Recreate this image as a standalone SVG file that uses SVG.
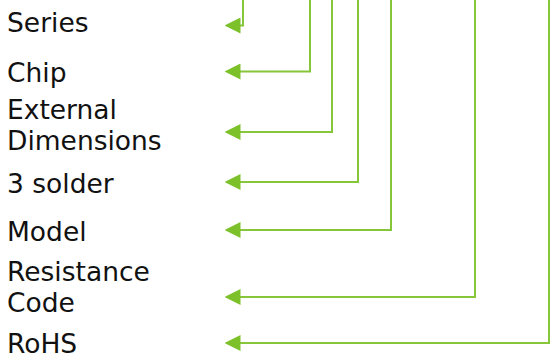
<svg xmlns="http://www.w3.org/2000/svg" width="550" height="354" viewBox="0 0 550 354">
<style>
.lbl{font-family:"DejaVu Sans",Verdana,sans-serif;font-size:26.5px;fill:#111}
.c{fill:none;stroke:#86c63a;stroke-width:2}
</style>
<defs>
<marker id="ah" markerWidth="16" markerHeight="16" viewBox="0 0 16 16" refX="0.5" refY="8" orient="auto" markerUnits="userSpaceOnUse">
<path d="M16,8 L0,0 L0,16 Z" fill="#7dc12a"/>
</marker>
</defs>
<rect width="550" height="354" fill="#fff"/>
<g id="n-series"><text class="lbl" x="7" y="32">Series</text></g>
<g id="n-chip"><text class="lbl" x="7" y="82">Chip</text></g>
<g id="n-ext"><text class="lbl" x="7" y="119">External</text><text class="lbl" x="7" y="150">Dimensions</text></g>
<g id="n-solder"><text class="lbl" x="7" y="193">3 solder</text></g>
<g id="n-model"><text class="lbl" x="7" y="241">Model</text></g>
<g id="n-res"><text class="lbl" x="7" y="281">Resistance</text><text class="lbl" x="7" y="312">Code</text></g>
<g id="n-rohs"><text class="lbl" x="7" y="353">RoHS</text></g>
<g id="connectors">
<polyline class="c" points="243,0 243,25.5 240,25.5" marker-end="url(#ah)"/>
<polyline class="c" points="310,0 310,71.5 240,71.5" marker-end="url(#ah)"/>
<polyline class="c" points="332,0 332,132 240,132" marker-end="url(#ah)"/>
<polyline class="c" points="358,0 358,182 240,182" marker-end="url(#ah)"/>
<polyline class="c" points="391,0 391,230 240,230" marker-end="url(#ah)"/>
<polyline class="c" points="475,0 475,297 240,297" marker-end="url(#ah)"/>
<polyline class="c" points="549,0 549,343 240,343" marker-end="url(#ah)"/>
</g>
</svg>
